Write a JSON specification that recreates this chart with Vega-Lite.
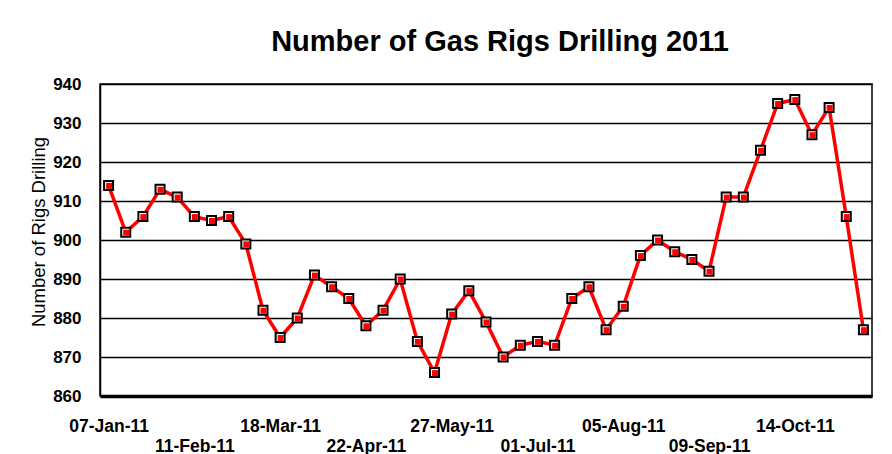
{
  "$schema": "https://vega.github.io/schema/vega-lite/v6.json",
  "width": 772,
  "height": 312,
  "autosize": {"type": "none"},
  "padding": {"left": 100, "top": 84, "right": 20, "bottom": 58},
  "background": "white",
  "title": {
    "text": "Number of Gas Rigs Drilling 2011",
    "font": "Liberation Sans",
    "fontSize": 29,
    "fontWeight": "bold",
    "color": "black",
    "anchor": "middle",
    "baseline": "alphabetic",
    "dx": 14,
    "offset": -5
  },
  "data": {
    "values": [
      {"date": "07-Jan-11", "rigs": 914},
      {"date": "14-Jan-11", "rigs": 902},
      {"date": "21-Jan-11", "rigs": 906},
      {"date": "28-Jan-11", "rigs": 913},
      {"date": "04-Feb-11", "rigs": 911},
      {"date": "11-Feb-11", "rigs": 906},
      {"date": "18-Feb-11", "rigs": 905},
      {"date": "25-Feb-11", "rigs": 906},
      {"date": "04-Mar-11", "rigs": 899},
      {"date": "11-Mar-11", "rigs": 882},
      {"date": "18-Mar-11", "rigs": 875},
      {"date": "25-Mar-11", "rigs": 880},
      {"date": "01-Apr-11", "rigs": 891},
      {"date": "08-Apr-11", "rigs": 888},
      {"date": "15-Apr-11", "rigs": 885},
      {"date": "22-Apr-11", "rigs": 878},
      {"date": "29-Apr-11", "rigs": 882},
      {"date": "06-May-11", "rigs": 890},
      {"date": "13-May-11", "rigs": 874},
      {"date": "20-May-11", "rigs": 866},
      {"date": "27-May-11", "rigs": 881},
      {"date": "03-Jun-11", "rigs": 887},
      {"date": "10-Jun-11", "rigs": 879},
      {"date": "17-Jun-11", "rigs": 870},
      {"date": "24-Jun-11", "rigs": 873},
      {"date": "01-Jul-11", "rigs": 874},
      {"date": "08-Jul-11", "rigs": 873},
      {"date": "15-Jul-11", "rigs": 885},
      {"date": "22-Jul-11", "rigs": 888},
      {"date": "29-Jul-11", "rigs": 877},
      {"date": "05-Aug-11", "rigs": 883},
      {"date": "12-Aug-11", "rigs": 896},
      {"date": "19-Aug-11", "rigs": 900},
      {"date": "26-Aug-11", "rigs": 897},
      {"date": "02-Sep-11", "rigs": 895},
      {"date": "09-Sep-11", "rigs": 892},
      {"date": "16-Sep-11", "rigs": 911},
      {"date": "23-Sep-11", "rigs": 911},
      {"date": "30-Sep-11", "rigs": 923},
      {"date": "07-Oct-11", "rigs": 935},
      {"date": "14-Oct-11", "rigs": 936},
      {"date": "21-Oct-11", "rigs": 927},
      {"date": "28-Oct-11", "rigs": 934},
      {"date": "04-Nov-11", "rigs": 906},
      {"date": "11-Nov-11", "rigs": 877}
    ]
  },
  "encoding": {
    "x": {
      "field": "date",
      "type": "ordinal",
      "sort": null,
      "scale": {"type": "point", "padding": 0.5},
      "axis": {
        "title": null,
        "values": ["07-Jan-11", "11-Feb-11", "18-Mar-11", "22-Apr-11", "27-May-11", "01-Jul-11", "05-Aug-11", "09-Sep-11", "14-Oct-11"],
        "ticks": false,
        "grid": false,
        "domain": true,
        "domainColor": "black",
        "domainWidth": 3.5,
        "labelFont": "Liberation Sans",
        "labelFontSize": 17.5,
        "labelFontWeight": "bold",
        "labelColor": "black",
        "labelAngle": 0,
        "labelAlign": "center",
        "labelBaseline": "top",
        "labelOverlap": false,
        "labelFlush": false,
        "labelPadding": {
          "condition": {"test": "indexof(['11-Feb-11','22-Apr-11','01-Jul-11','09-Sep-11'], datum.value) >= 0", "value": 41},
          "value": 21
        }
      }
    },
    "y": {
      "field": "rigs",
      "type": "quantitative",
      "scale": {"domain": [860, 940], "nice": false, "zero": false},
      "axis": {
        "title": "Number of Rigs Drilling",
        "values": [860, 870, 880, 890, 900, 910, 920, 930, 940],
        "ticks": false,
        "grid": true,
        "gridColor": "black",
        "gridWidth": 1.5,
        "gridOpacity": 1,
        "domain": true,
        "domainColor": "black",
        "domainWidth": 1.5,
        "labelFont": "Liberation Sans",
        "labelFontSize": 17,
        "labelFontWeight": "bold",
        "labelColor": "black",
        "labelPadding": 19,
        "titleFont": "Liberation Sans",
        "titleFontSize": 18.5,
        "titleFontWeight": "normal",
        "titleColor": "black",
        "titleX": -62,
        "titleY": 147.5,
        "titleAngle": 270,
        "titleAlign": "center",
        "titleBaseline": "middle"
      }
    }
  },
  "layer": [
    {"mark": {"type": "line", "color": "#FF0000", "strokeWidth": 3.5}},
    {"mark": {"type": "point", "shape": "square", "filled": true, "color": "white", "fill": "white", "stroke": "black", "strokeWidth": 2, "size": 81, "opacity": 1}},
    {"mark": {"type": "point", "shape": "square", "filled": true, "color": "#FF0000", "fill": "#FF0000", "strokeWidth": 0, "size": 36, "opacity": 1, "xOffset": 0.5, "yOffset": 0.5}}
  ],
  "config": {
    "view": {"stroke": "black", "strokeWidth": 1.5}
  }
}
